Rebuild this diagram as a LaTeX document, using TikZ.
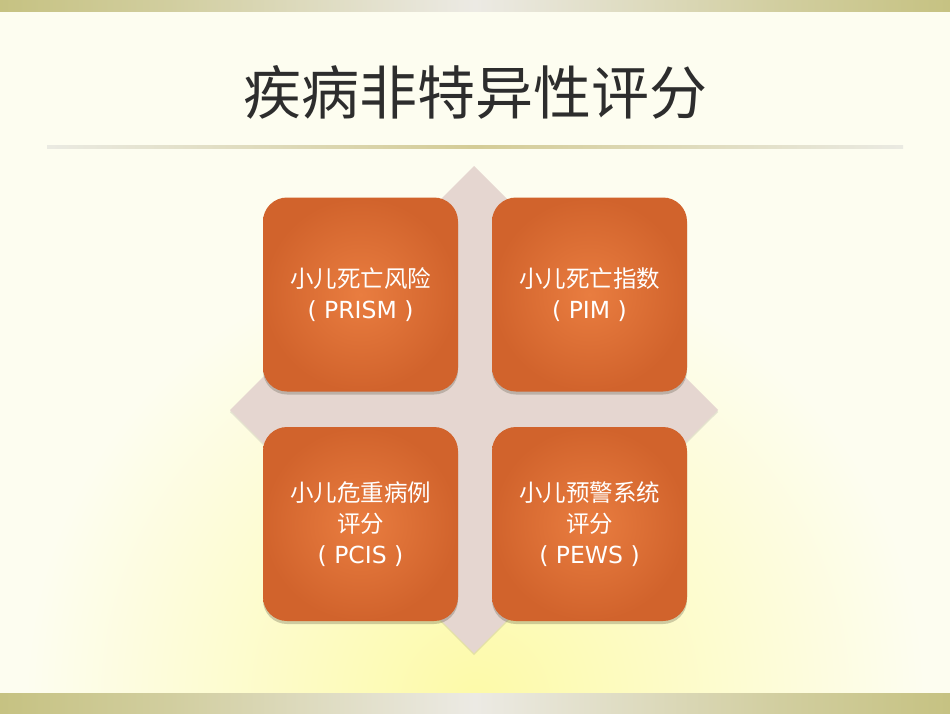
\documentclass[tikz,border=0pt]{standalone}
\usepackage{fontspec}
\setmainfont{DejaVu Sans}
\newfontfamily\cjk{Noto Sans CJK SC}
\usetikzlibrary{shadows}

\definecolor{paper}{RGB}{253,253,240}
\definecolor{glow}{RGB}{253,250,168}
\definecolor{band}{RGB}{198,194,130}
\definecolor{bandlight}{RGB}{236,234,228}
\definecolor{rulegold}{RGB}{212,204,150}
\definecolor{rulegray}{RGB}{234,234,226}
\definecolor{tile}{RGB}{229,214,208}
\definecolor{boxin}{RGB}{233,125,64}
\definecolor{boxout}{RGB}{209,99,44}
\definecolor{titlegray}{RGB}{45,45,45}

% horizontal fades for the bands and the rule
\pgfdeclarehorizontalshading{bandfade}{100bp}{color(0bp)=(band); color(25bp)=(band);
  color(34bp)=(band!70!bandlight); color(50bp)=(bandlight); color(66bp)=(band!70!bandlight);
  color(75bp)=(band); color(100bp)=(band)}
\pgfdeclarehorizontalshading{rulefade}{100bp}{color(0bp)=(rulegray); color(25bp)=(rulegray);
  color(50bp)=(rulegold); color(75bp)=(rulegray); color(100bp)=(rulegray)}

\begin{document}
\begin{tikzpicture}
        [x=1pt, y=-1pt,
        score/.style={rounded corners=24pt, minimum width=195pt, minimum height=194pt,
          inner color=boxin, outer color=boxout, text=white, align=center,
          font=\fontsize{23.5}{31}\selectfont,
          drop shadow={shadow xshift=0pt, shadow yshift=-3pt, opacity=0.25, fill=black!70!olive}}]

        \useasboundingbox (0,0) rectangle (950,713);

        % background with the warm glow at the bottom
        \fill[paper] (0,0) rectangle (950,713);
        \begin{scope}
          \clip (0,0) rectangle (950,713);
          \shade[inner color=glow, outer color=paper] (475,700) circle (450);
        \end{scope}

        % bands at the top and bottom
        \shade[shading=bandfade] (0,0) rectangle (950,11);
        \shade[shading=bandfade] (0,693) rectangle (950,713);

        % title and rule under it
        \node[text=titlegray, font=\cjk\fontsize{58}{60}\selectfont] (title) at (475,92) {疾病非特异性评分};
        \shade[shading=rulefade] (47,145.5) rectangle (903,148.5);

        % the diamond behind the four scores
        \fill[tile, drop shadow={shadow xshift=0pt, shadow yshift=-2pt, opacity=0.2}]
          (474,166) -- (718,410) -- (474,653) -- (230,410) -- cycle;

        % the four scores
        \node[score] (prism) at (360.5,294.5) {{\cjk 小儿死亡风险}\\( PRISM )};
        \node[score] (pim) at (589.5,294.5) {{\cjk 小儿死亡指数}\\( PIM )};
        \node[score] (pcis) at (360.5,524) {{\cjk 小儿危重病例}\\{\cjk 评分}\\( PCIS )};
        \node[score] (pews) at (589.5,524) {{\cjk 小儿预警系统}\\{\cjk 评分}\\( PEWS )};

    \end{tikzpicture}
\end{document}
